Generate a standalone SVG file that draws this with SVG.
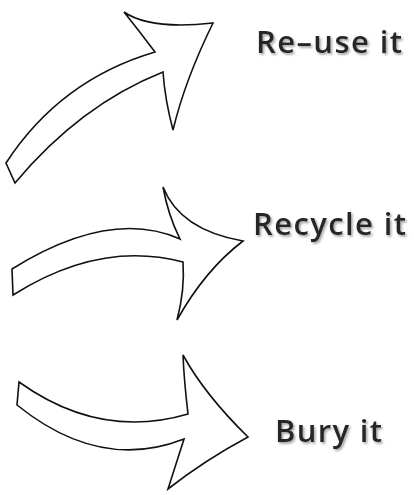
<svg xmlns="http://www.w3.org/2000/svg" width="414" height="495" viewBox="0 0 414 495">
  <defs>
    <filter id="shadow" x="-10%" y="-20%" width="130%" height="160%">
      <feDropShadow dx="1.5" dy="1.8" stdDeviation="0.8" flood-color="#9a9a9a" flood-opacity="0.9"/>
    </filter>
  </defs>
  <style>
    .arrow { fill: #ffffff; stroke: #111111; stroke-width: 1.6; stroke-linejoin: miter; }
    .label { font-family: "Open Sans", "DejaVu Sans", sans-serif; font-size: 31px; font-weight: 600; fill: #262626; filter: url(#shadow); }
  </style>
  <rect width="414" height="495" fill="#ffffff"/>
  <g id="reuse">
    <path class="arrow" d="M 6,163 Q 60,80 155,52 Q 140,32 124,12 Q 150,30 213,23 Q 185,80 173,130 Q 165,100 163,72 Q 80,105 15,183 Z"/>
    <text class="label" x="256" y="53" textLength="146" lengthAdjust="spacing">Re–use it</text>
  </g>
  <g id="recycle">
    <path class="arrow" d="M 12,269 Q 110,208 180,239 Q 168,215 163,187 Q 180,230 243,241 Q 205,270 177,320 Q 185,290 183,262 Q 100,240 13,295 Z"/>
    <text class="label" x="253" y="235" textLength="153" lengthAdjust="spacing">Recycle it</text>
  </g>
  <g id="bury">
    <path class="arrow" d="M 19,382 Q 100,440 188,414 Q 184,380 183,355 Q 205,395 248,437 Q 205,460 168,489 L 184,439 Q 100,472 17,405 Z"/>
    <text class="label" x="275" y="442" textLength="107" lengthAdjust="spacing">Bury it</text>
  </g>
  <g id="connectors"/>
</svg>
